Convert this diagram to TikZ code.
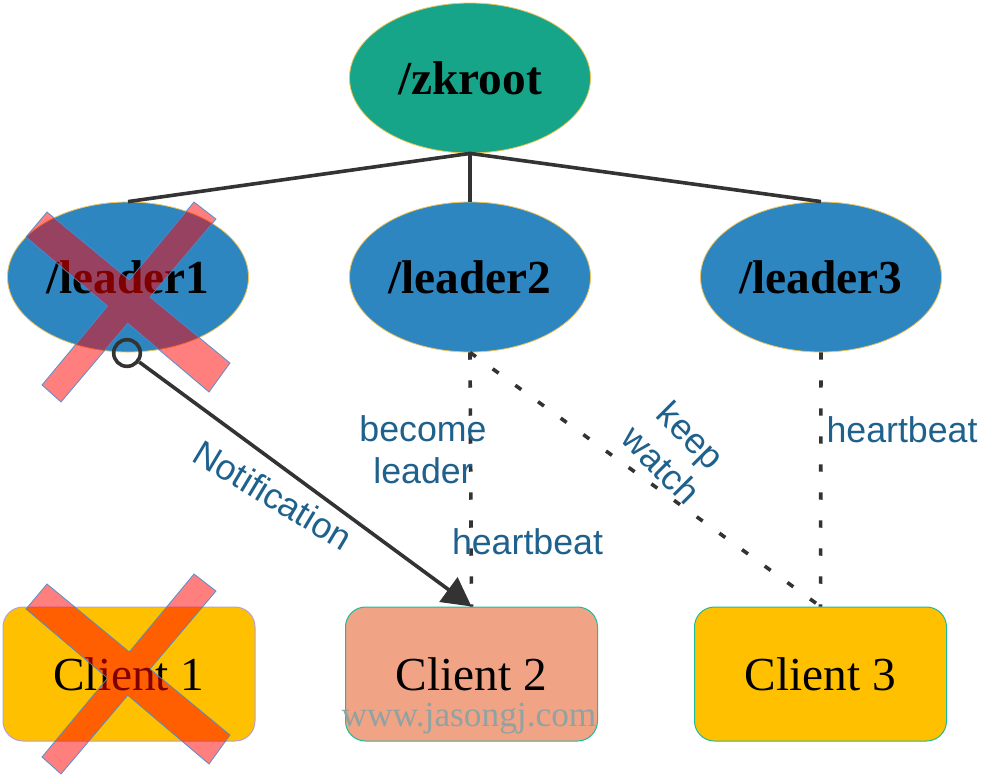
\documentclass[tikz,border=0pt]{standalone}
\usepackage{fontspec}
\setmainfont{Liberation Serif}
\newfontfamily\lblfont{Liberation Sans}
\usetikzlibrary{shapes.geometric,arrows.meta}
\definecolor{rootc}{RGB}{23,165,137}
\definecolor{leadc}{RGB}{46,134,193}
\definecolor{ringc}{RGB}{240,196,90}
\definecolor{clienty}{RGB}{255,192,0}
\definecolor{clients}{RGB}{241,163,133}
\definecolor{tealc}{RGB}{26,188,156}
\definecolor{purpc}{RGB}{180,160,215}
\definecolor{lblc}{RGB}{31,97,141}
\definecolor{linec}{RGB}{51,51,51}
\definecolor{wmc}{RGB}{145,162,162}
\definecolor{crossedge}{RGB}{70,140,210}
\newcommand\drawxmark{%
  \coordinate (xa1) at (47,212); \coordinate (xb1) at (230,363);
  \coordinate (xc1) at (209,392); \coordinate (xd1) at (26,237);
  \coordinate (xa2) at (194,202); \coordinate (xb2) at (216,219);
  \coordinate (xc2) at (61,402);  \coordinate (xd2) at (42,385);
  \filldraw[xmarkstyle] (xa1) -- (intersection of xa1--xb1 and xa2--xd2) -- (xa2) -- (xb2)
    -- (intersection of xb2--xc2 and xa1--xb1) -- (xb1) -- (xc1)
    -- (intersection of xc1--xd1 and xb2--xc2) -- (xc2) -- (xd2)
    -- (intersection of xd2--xa2 and xc1--xd1) -- (xd1) -- cycle;}
\begin{document}
\begin{tikzpicture}[x=0.75pt,y=-0.75pt,
  ellnode/.style={ellipse, minimum width=180.75pt, minimum height=112.5pt, inner sep=0pt,
    draw=ringc, line width=0.6pt, font=\bfseries\fontsize{35.5}{40}\selectfont},
  clientbox/.style={rectangle, rounded corners=15pt, minimum width=189pt, minimum height=100.5pt,
    inner sep=0pt, line width=0.75pt, font=\fontsize{35.5}{40}\selectfont},
  treeline/.style={linec, line width=2.7pt},
  dashline/.style={linec, line width=2.7pt, dash pattern=on 5.5pt off 15.5pt},
  lbl/.style={font=\lblfont\fontsize{26.8}{31.5}\selectfont, text=lblc, align=center, inner sep=0pt},
  xmarkstyle/.style={fill=red, fill opacity=0.5, draw=crossedge, draw opacity=0.9, line width=0.6pt},
  wm/.style={font=\fontsize{26.5}{30}\selectfont, text=wmc, inner sep=0pt}]
\fill[white] (0,0) rectangle (994,776);
\useasboundingbox (0,0) rectangle (994,776);
% tree nodes
\node[ellnode, fill=rootc] (root) at (470,78) {/zkroot};
\node[ellnode, fill=leadc] (l1) at (128,277) {/leader1};
\node[ellnode, fill=leadc] (l2) at (470,277) {/leader2};
\node[ellnode, fill=leadc] (l3) at (821,277) {/leader3};
% clients
\node[clientbox, fill=clienty, draw=purpc] (c1) at (129,674) {Client 1};
\node[clientbox, fill=clients, draw=tealc] (c2) at (471.5,674) {Client 2};
\node[clientbox, fill=clienty, draw=tealc] (c3) at (820.5,674) {Client 3};
% tree lines
\draw[treeline] (root.south) -- (l1.north);
\draw[treeline] (root.south) -- (l2.north);
\draw[treeline] (root.south) -- (l3.north);
% dashed connections
\draw[dashline] (l2.south) -- (c2.north);
\draw[dashline] (l2.south) -- (c3.north);
\draw[dashline] (l3.south) -- (c3.north);
% crosses
\begin{scope}
\drawxmark
\end{scope}
\begin{scope}[shift={(0,372)}]
\drawxmark
\end{scope}
% notification arrow
\node[circle, draw=linec, line width=2.7pt, minimum size=20pt, inner sep=0pt] (nstart) at (127,353) {};
\draw[linec, line width=2.7pt, -{Triangle[length=21.5pt,width=22.5pt]}] (nstart) -- (c2.north);
% labels
\node[lbl] (lbecome) at (423,450) {become\\leader};
\node[lbl] (lhb2) at (527.5,541.5) {heartbeat};
\node[lbl] (lhb3) at (902,430) {heartbeat};
\node[lbl, rotate=-45] (lkeep) at (676,450) {keep\\watch};
\node[lbl, rotate=-31] (lnotif) at (273,495) {Notification};
% watermark
\node[wm, anchor=base] (wmark) at (469,726) {www.jasongj.com};
\end{tikzpicture}
\end{document}
